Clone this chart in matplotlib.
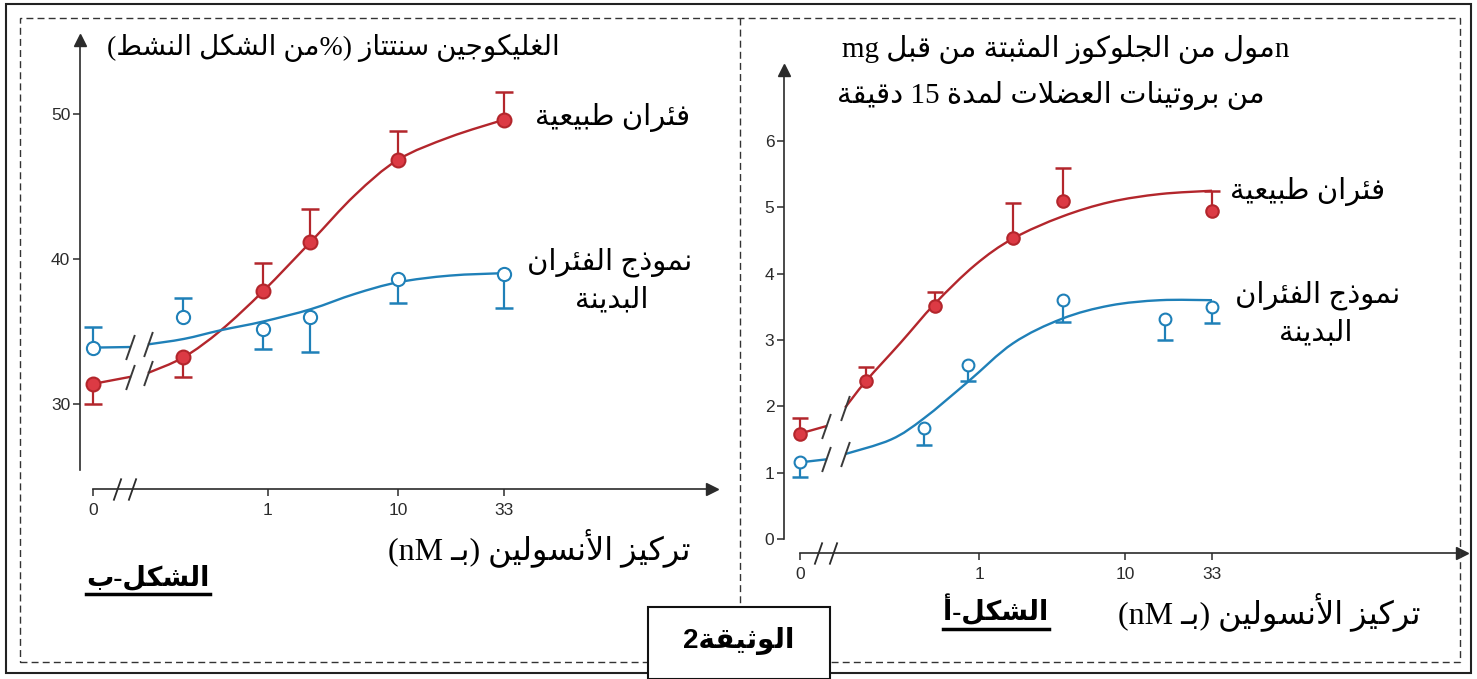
import numpy as np
import matplotlib
matplotlib.use('Agg')
import matplotlib.pyplot as plt
from matplotlib.path import Path
from matplotlib.patches import Rectangle, PathPatch
from matplotlib.lines import Line2D

# ---------------- data ----------------
# الشكل-ب : glycogen synthase (% active form)
x_ticks = [0, 1, 10, 33]
b_red_x = [0, 0.22, 0.92, 2.1, 10, 33]
b_red_y = [31.4, 33.25, 37.8, 41.2, 46.8, 49.6]
b_red_err = [-1.4, -1.35, 1.9, 2.25, 2.0, 1.9]      # one-sided bars (sign = direction)
b_blue_x = [0, 0.22, 0.92, 2.1, 10, 33]
b_blue_y = [33.9, 36.0, 35.2, 36.0, 38.6, 39.0]
b_blue_err = [1.4, 1.35, -1.4, -2.4, -1.6, -2.4]
# fitted curves
b_red_fit0_y = [31.4, 31.88]
b_red_fit_x = [0.119, 0.226, 0.435, 0.92, 2.14, 4.66, 10, 17.9, 33]
b_red_fit_y = [32.15, 33.25, 35.1, 37.8, 41.2, 44.4, 46.84, 48.4, 49.6]
b_blue_fit0_y = [33.9, 33.94]
b_blue_fit_x = [0.119, 0.226, 0.435, 0.92, 2.14, 4.66, 10, 17.9, 33]
b_blue_fit_y = [34.12, 34.5, 35.1, 35.7, 36.55, 37.6, 38.4, 38.86, 39.03]
b_break = [0.066, 0.119]
b_axis_break = [0.034, 0.074]

# الشكل-أ : glucose fixed
a_red_x = [0, 0.167, 0.5, 1.72, 3.74, 33]
a_red_y = [1.59, 2.38, 3.51, 4.53, 5.09, 4.95]
a_red_err = [0.23, 0.22, 0.22, 0.53, 0.51, 0.30]
a_blue_x = [0, 0.42, 0.845, 3.74, 17.3, 33]
a_blue_y = [1.155, 1.67, 2.63, 3.61, 3.32, 3.50]
a_blue_err = [-0.215, -0.25, -0.25, -0.34, -0.32, -0.24]
a_red_fit0_y = [1.59, 1.70]
a_red_fit_x = [0.121, 0.168, 0.288, 0.5, 0.94, 1.71, 3.7, 7.9, 16.2, 33]
a_red_fit_y = [1.98, 2.38, 2.95, 3.55, 4.13, 4.53, 4.86, 5.08, 5.2, 5.25]
a_blue_fit0_y = [1.155, 1.2]
a_blue_fit_x = [0.121, 0.25, 0.42, 0.84, 1.71, 3.7, 7.9, 16.2, 33]
a_blue_fit_y = [1.28, 1.5, 1.82, 2.37, 2.95, 3.32, 3.52, 3.6, 3.6]
a_break = [0.061, 0.121]
a_axis_break = [0.035, 0.1]

RED = '#b3262c'
RED_FACE = '#dc3a44'
BLUE = '#1f80b8'
AXC = '#2b2b2b'

# ---------------- arabic shaping (presentation forms, visual order) ----------------
DUAL = {'ب': 0xFE8F, 'ت': 0xFE95, 'ث': 0xFE99, 'ج': 0xFE9D, 'س': 0xFEB1, 'ش': 0xFEB5,
        'ض': 0xFEBD, 'ط': 0xFEC1, 'ع': 0xFEC9, 'غ': 0xFECD, 'ف': 0xFED1, 'ق': 0xFED5,
        'ك': 0xFED9, 'ل': 0xFEDD, 'م': 0xFEE1, 'ن': 0xFEE5, 'ه': 0xFEE9, 'ي': 0xFEF1,
        'ئ': 0xFE89}
RIGHT = {'ا': 0xFE8D, 'أ': 0xFE83, 'ة': 0xFE93, 'د': 0xFEA9, 'ذ': 0xFEAB, 'ر': 0xFEAD,
         'ز': 0xFEAF, 'و': 0xFEED}
LAMALEF = {'ا': 0xFEFB, 'أ': 0xFEF7}
TATWEEL = '\u0640'


def joins_next(c):
    return c in DUAL or c == TATWEEL


def is_ar(c):
    return c in DUAL or c in RIGHT or c == TATWEEL


def shape(s):
    out = []
    i = 0
    while i < len(s):
        c = s[i]
        prev_conn = i > 0 and joins_next(s[i - 1]) and is_ar(c)
        if c == 'ل' and i + 1 < len(s) and s[i + 1] in LAMALEF:
            out.append(chr(LAMALEF[s[i + 1]] + (1 if prev_conn else 0)))
            i += 2
            continue
        if c in DUAL:
            next_conn = i + 1 < len(s) and is_ar(s[i + 1])
            k = {(False, False): 0, (True, False): 1, (False, True): 2, (True, True): 3}[(prev_conn, next_conn)]
            out.append(chr(DUAL[c] + k))
        elif c in RIGHT:
            out.append(chr(RIGHT[c] + (1 if prev_conn else 0)))
        else:
            out.append(c)
        i += 1
    return ''.join(out)


def ar(s):
    return shape(s)[::-1]


# ---------------- figure ----------------
W, H = 1477, 679
fig = plt.figure(figsize=(W / 100, H / 100), dpi=100)
fig.patch.set_facecolor('white')


def fx(px):
    return px / W


def fy(py):
    return 1 - py / H


def add_ax(x0, y0, x1, y1):
    return fig.add_axes([fx(x0), fy(y1), fx(x1) - fx(x0), fy(y0) - fy(y1)])


def make_scale(logs, pix):
    def fwd(c):
        c = np.asarray(c, dtype=float)
        lc = np.log10(np.where(c > 0, c, 0.01))
        return np.interp(lc, logs, pix)

    def inv(p):
        return 10 ** np.interp(p, pix, logs)
    return fwd, inv


slash = Path([(-0.35, -1), (0.35, 1)], [Path.MOVETO, Path.LINETO])
FONT_AR = ['Liberation Serif', 'DejaVu Sans']
FONT_NUM = ['Liberation Sans', 'DejaVu Sans']


def setup(ax, scale, ylim, ybottom, yticks, axis_break):
    ax.set_xscale('function', functions=scale)
    ax.set_yticks(yticks)
    ax.set_xticks(x_ticks)
    ax.set_xticklabels([str(t) for t in x_ticks])
    ax.set_xlim(10 ** -2.3, 100)
    ax.set_ylim(*ylim)
    ax.patch.set_alpha(0)
    for s in ['top', 'right']:
        ax.spines[s].set_visible(False)
    for s in ['left', 'bottom']:
        ax.spines[s].set_color(AXC)
        ax.spines[s].set_linewidth(1.2)
    ax.spines['left'].set_bounds(ybottom, ylim[1])
    ax.spines['bottom'].set_bounds(0.01, 100)
    ax.tick_params(axis='both', colors=AXC, labelsize=12.5, width=1.1, length=5, direction='out')
    ax.tick_params(axis='x', pad=5)
    ax.tick_params(axis='y', pad=2)
    for lab in ax.get_xticklabels() + ax.get_yticklabels():
        lab.set_family(FONT_NUM)
    ax.xaxis.set_minor_locator(matplotlib.ticker.NullLocator())
    ax.plot(0, 1, '^', color=AXC, ms=8, transform=ax.transAxes, clip_on=False)
    ax.plot(1, 0, '>', color=AXC, ms=8, transform=ax.transAxes, clip_on=False)
    ax.plot(axis_break, [ylim[0]] * 2, ls='none', marker=slash, ms=16, mew=1.3,
            color=AXC, clip_on=False)


def smooth(ax, scale, xs, ys, color):
    # Catmull-Rom curve through the read points, built as cubic Bezier segments
    fwd, inv = scale
    p = np.column_stack([fwd(np.array(xs)), np.array(ys, dtype=float)])
    ext = np.vstack([p[0], p, p[-1]])
    verts = [p[0]]
    codes = [Path.MOVETO]
    for i in range(len(p) - 1):
        c1 = ext[i + 1] + (ext[i + 2] - ext[i]) / 6
        c2 = ext[i + 2] - (ext[i + 3] - ext[i + 1]) / 6
        verts += [c1, c2, ext[i + 2]]
        codes += [Path.CURVE4] * 3
    verts = np.array(verts)
    verts[:, 0] = inv(verts[:, 0])
    ax.add_patch(PathPatch(Path(verts, codes), fc='none', ec=color, lw=1.7, zorder=2))


def series(ax, scale, x, y, err, fit0_y, fit_x, fit_y, brk, color, face, ms, cap):
    ax.plot([x[0], brk[0]], fit0_y, color=color, lw=1.7, zorder=2)
    smooth(ax, scale, fit_x, fit_y, color)
    ax.plot(brk, [fit0_y[1], fit_y[0]], ls='none', marker=slash, ms=18, mew=1.4,
            color='#3a3a3a', zorder=3)
    yend = np.array(y) + np.array(err)
    ax.vlines(x, y, yend, color=color, lw=1.6, zorder=3)
    ax.plot(x, yend, ls='none', marker='_', ms=cap, mew=1.8, color=color, zorder=3)
    ax.plot(x, y, ls='none', marker='o', ms=ms, mfc=face, mec=color, mew=1.5, zorder=4)


# left panel : الشكل-ب
scale_b = make_scale([-2.3, -2, -1, 0, 1, np.log10(33), 2.0], [80, 93, 138, 268, 398, 504, 712])
axb = add_ax(80, 40, 712, 489)
setup(axb, scale_b, (24.16, 55.09), 25.46, [30, 40, 50], b_axis_break)
series(axb, scale_b, b_red_x, b_red_y, b_red_err, b_red_fit0_y, b_red_fit_x, b_red_fit_y,
       b_break, RED, RED_FACE, 10, 13)
series(axb, scale_b, b_blue_x, b_blue_y, b_blue_err, b_blue_fit0_y, b_blue_fit_x, b_blue_fit_y,
       b_break, BLUE, 'white', 9.5, 13)

# right panel : الشكل-أ
scale_a = make_scale([-2.3, -2, -1, 0, 1, np.log10(33), 2.0], [784, 800, 833, 979, 1125, 1212, 1462])
axa = add_ax(784, 70, 1462, 553)
setup(axa, scale_a, (-0.211, 7.07), 0, [0, 1, 2, 3, 4, 5, 6], a_axis_break)
series(axa, scale_a, a_red_x, a_red_y, a_red_err, a_red_fit0_y, a_red_fit_x, a_red_fit_y,
       a_break, RED, RED_FACE, 9, 11)
series(axa, scale_a, a_blue_x, a_blue_y, a_blue_err, a_blue_fit0_y, a_blue_fit_x, a_blue_fit_y,
       a_break, BLUE, 'white', 8.5, 11)


# ---------------- texts ----------------
def txt(px, py, s, size=21, ha='right', weight='normal', family=FONT_AR):
    return fig.text(fx(px), fy(py), s, ha=ha, va='center', fontsize=size,
                    fontweight=weight, family=family)


normal = ar('فئران طبيعية')
obese1 = ar('نموذج الفئران')
obese2 = ar('البدينة')
xlabel = '(nM ' + ar('بـ') + ') ' + ar('تركيز الأنسولين')

txt(560, 48, '(' + ar('من الشكل النشط') + '%) ' + ar('الغليكوجين سنتتاز'), 20)
txt(690, 118, normal)
txt(692, 262, obese1)
txt(612, 300, obese2, ha='center')
txt(690, 548, xlabel, 23)
lb = txt(148, 578, 'ب' + '-' + ar('الشكل'), 19.5, ha='center', weight='bold')

txt(1290, 50, 'mg ' + ar('مول من الجلوكوز المثبتة من قبل') + 'n', 21)
txt(1265, 95, ar('دقيقة') + ' 15 ' + ar('من بروتينات العضلات لمدة'), 21)
txt(1385, 192, normal)
txt(1400, 295, obese1)
txt(1316, 333, obese2, ha='center')
txt(1420, 612, xlabel, 23)
la = txt(996, 610, 'أ' + '-' + ar('الشكل'), 19.5, ha='center', weight='bold')

# ---------------- frames ----------------
fig.add_artist(Rectangle((fx(6), fy(673)), fx(1471) - fx(6), fy(4) - fy(673), fill=False,
                         ec='#222222', lw=1.5, transform=fig.transFigure))
fig.add_artist(Rectangle((fx(20), fy(662)), fx(1460) - fx(20), fy(18) - fy(662), fill=False,
                         ec='#333333', lw=1, ls=(0, (5, 3)), transform=fig.transFigure))
fig.add_artist(Line2D([fx(740), fx(740)], [fy(18), fy(662)], color='#333333', lw=1,
                      ls=(0, (5, 3)), transform=fig.transFigure))
fig.add_artist(Rectangle((fx(648), fy(679)), fx(830) - fx(648), fy(607) - fy(679), fc='white',
                         ec='#111111', lw=1.5, transform=fig.transFigure, zorder=5))
fig.text(fx(739), fy(641), '2' + ar('الوثيقة'), ha='center', va='center', fontsize=20,
         fontweight='bold', family=FONT_NUM, zorder=6)

# underline the panel names
fig.canvas.draw()
r = fig.canvas.get_renderer()
for t in (lb, la):
    bb = t.get_window_extent(r)
    y = bb.y0 - 3
    fig.add_artist(Line2D([bb.x0 / W, bb.x1 / W], [y / H, y / H], color='black', lw=2.5,
                          transform=fig.transFigure))

fig.savefig('out.png', dpi=100, facecolor='white')
